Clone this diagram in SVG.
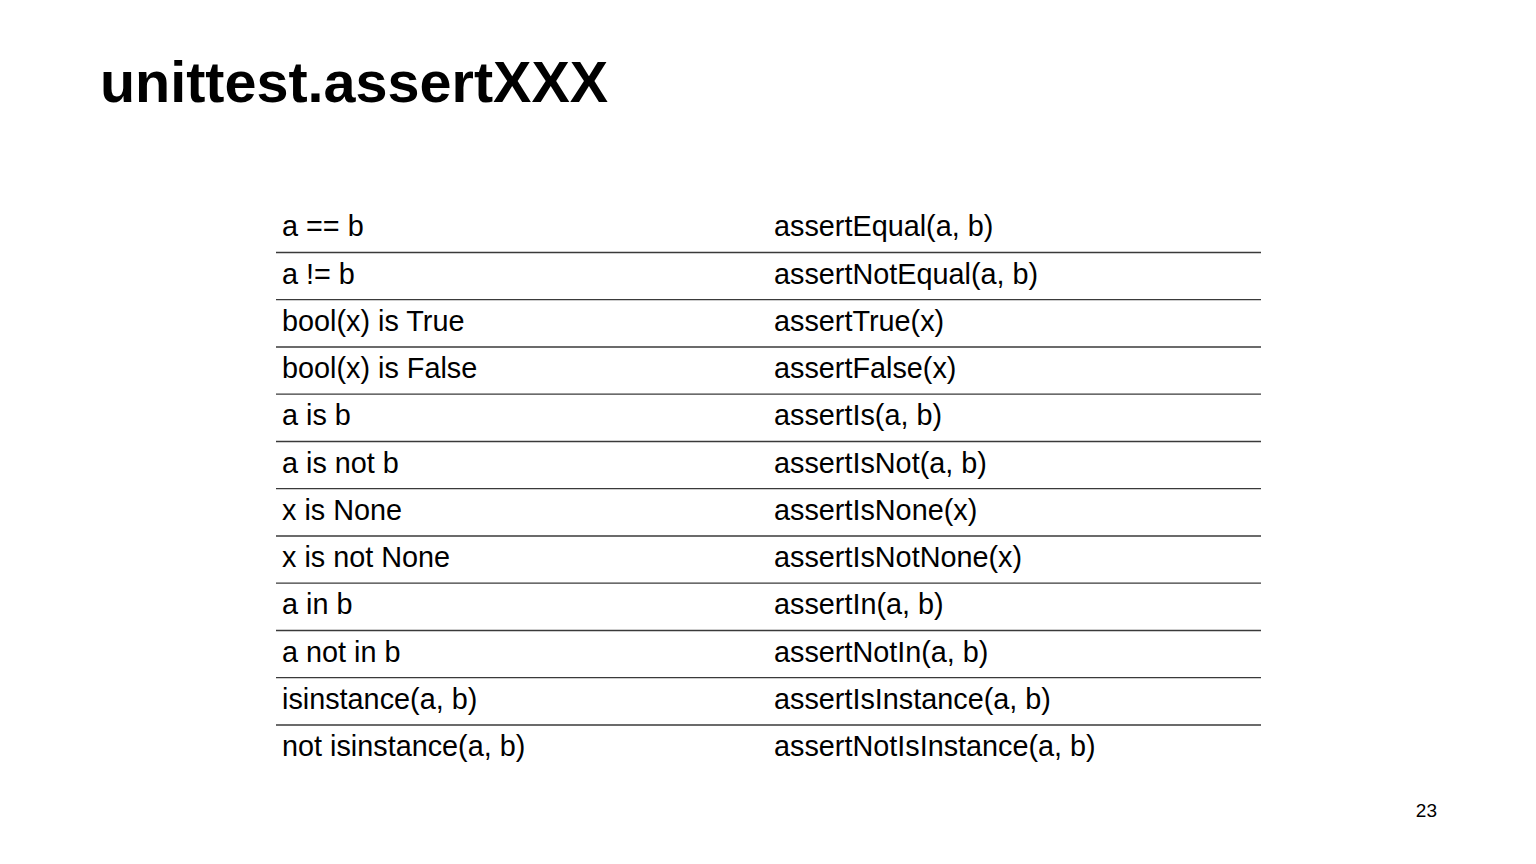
<svg xmlns="http://www.w3.org/2000/svg" width="1536" height="864" viewBox="0 0 1536 864">
<style>
.title{font-family:"Liberation Sans",Arial,sans-serif;font-weight:bold;font-size:57.5px;fill:#000}
.cell{font-family:"Liberation Sans",Arial,sans-serif;font-size:28.8px;fill:#000}
.rule{stroke:#3a3a3a;stroke-width:1.3}
.pg{font-family:"Liberation Sans",Arial,sans-serif;font-size:19px;fill:#000}
</style>
<rect width="1536" height="864" fill="#fff"/>
<text class="title" x="100" y="102">unittest.assertXXX</text>
<g id="rules">
<line class="rule" x1="276" y1="252.5" x2="1261" y2="252.5"/>
<line class="rule" x1="276" y1="299.7" x2="1261" y2="299.7"/>
<line class="rule" x1="276" y1="347" x2="1261" y2="347"/>
<line class="rule" x1="276" y1="394.2" x2="1261" y2="394.2"/>
<line class="rule" x1="276" y1="441.5" x2="1261" y2="441.5"/>
<line class="rule" x1="276" y1="488.7" x2="1261" y2="488.7"/>
<line class="rule" x1="276" y1="536" x2="1261" y2="536"/>
<line class="rule" x1="276" y1="583.2" x2="1261" y2="583.2"/>
<line class="rule" x1="276" y1="630.5" x2="1261" y2="630.5"/>
<line class="rule" x1="276" y1="677.7" x2="1261" y2="677.7"/>
<line class="rule" x1="276" y1="725" x2="1261" y2="725"/>
</g>
<g id="col1">
<text class="cell" x="282" y="236.3">a == b</text>
<text class="cell" x="282" y="283.5">a != b</text>
<text class="cell" x="282" y="330.8">bool(x) is True</text>
<text class="cell" x="282" y="378">bool(x) is False</text>
<text class="cell" x="282" y="425.3">a is b</text>
<text class="cell" x="282" y="472.5">a is not b</text>
<text class="cell" x="282" y="519.8">x is None</text>
<text class="cell" x="282" y="567">x is not None</text>
<text class="cell" x="282" y="614.3">a in b</text>
<text class="cell" x="282" y="661.5">a not in b</text>
<text class="cell" x="282" y="708.8">isinstance(a, b)</text>
<text class="cell" x="282" y="756">not isinstance(a, b)</text>
</g>
<g id="col2">
<text class="cell" x="774" y="236.3">assertEqual(a, b)</text>
<text class="cell" x="774" y="283.5">assertNotEqual(a, b)</text>
<text class="cell" x="774" y="330.8">assertTrue(x)</text>
<text class="cell" x="774" y="378">assertFalse(x)</text>
<text class="cell" x="774" y="425.3">assertIs(a, b)</text>
<text class="cell" x="774" y="472.5">assertIsNot(a, b)</text>
<text class="cell" x="774" y="519.8">assertIsNone(x)</text>
<text class="cell" x="774" y="567">assertIsNotNone(x)</text>
<text class="cell" x="774" y="614.3">assertIn(a, b)</text>
<text class="cell" x="774" y="661.5">assertNotIn(a, b)</text>
<text class="cell" x="774" y="708.8">assertIsInstance(a, b)</text>
<text class="cell" x="774" y="756">assertNotIsInstance(a, b)</text>
</g>
<text class="pg" x="1437" y="817" text-anchor="end">23</text>
</svg>
